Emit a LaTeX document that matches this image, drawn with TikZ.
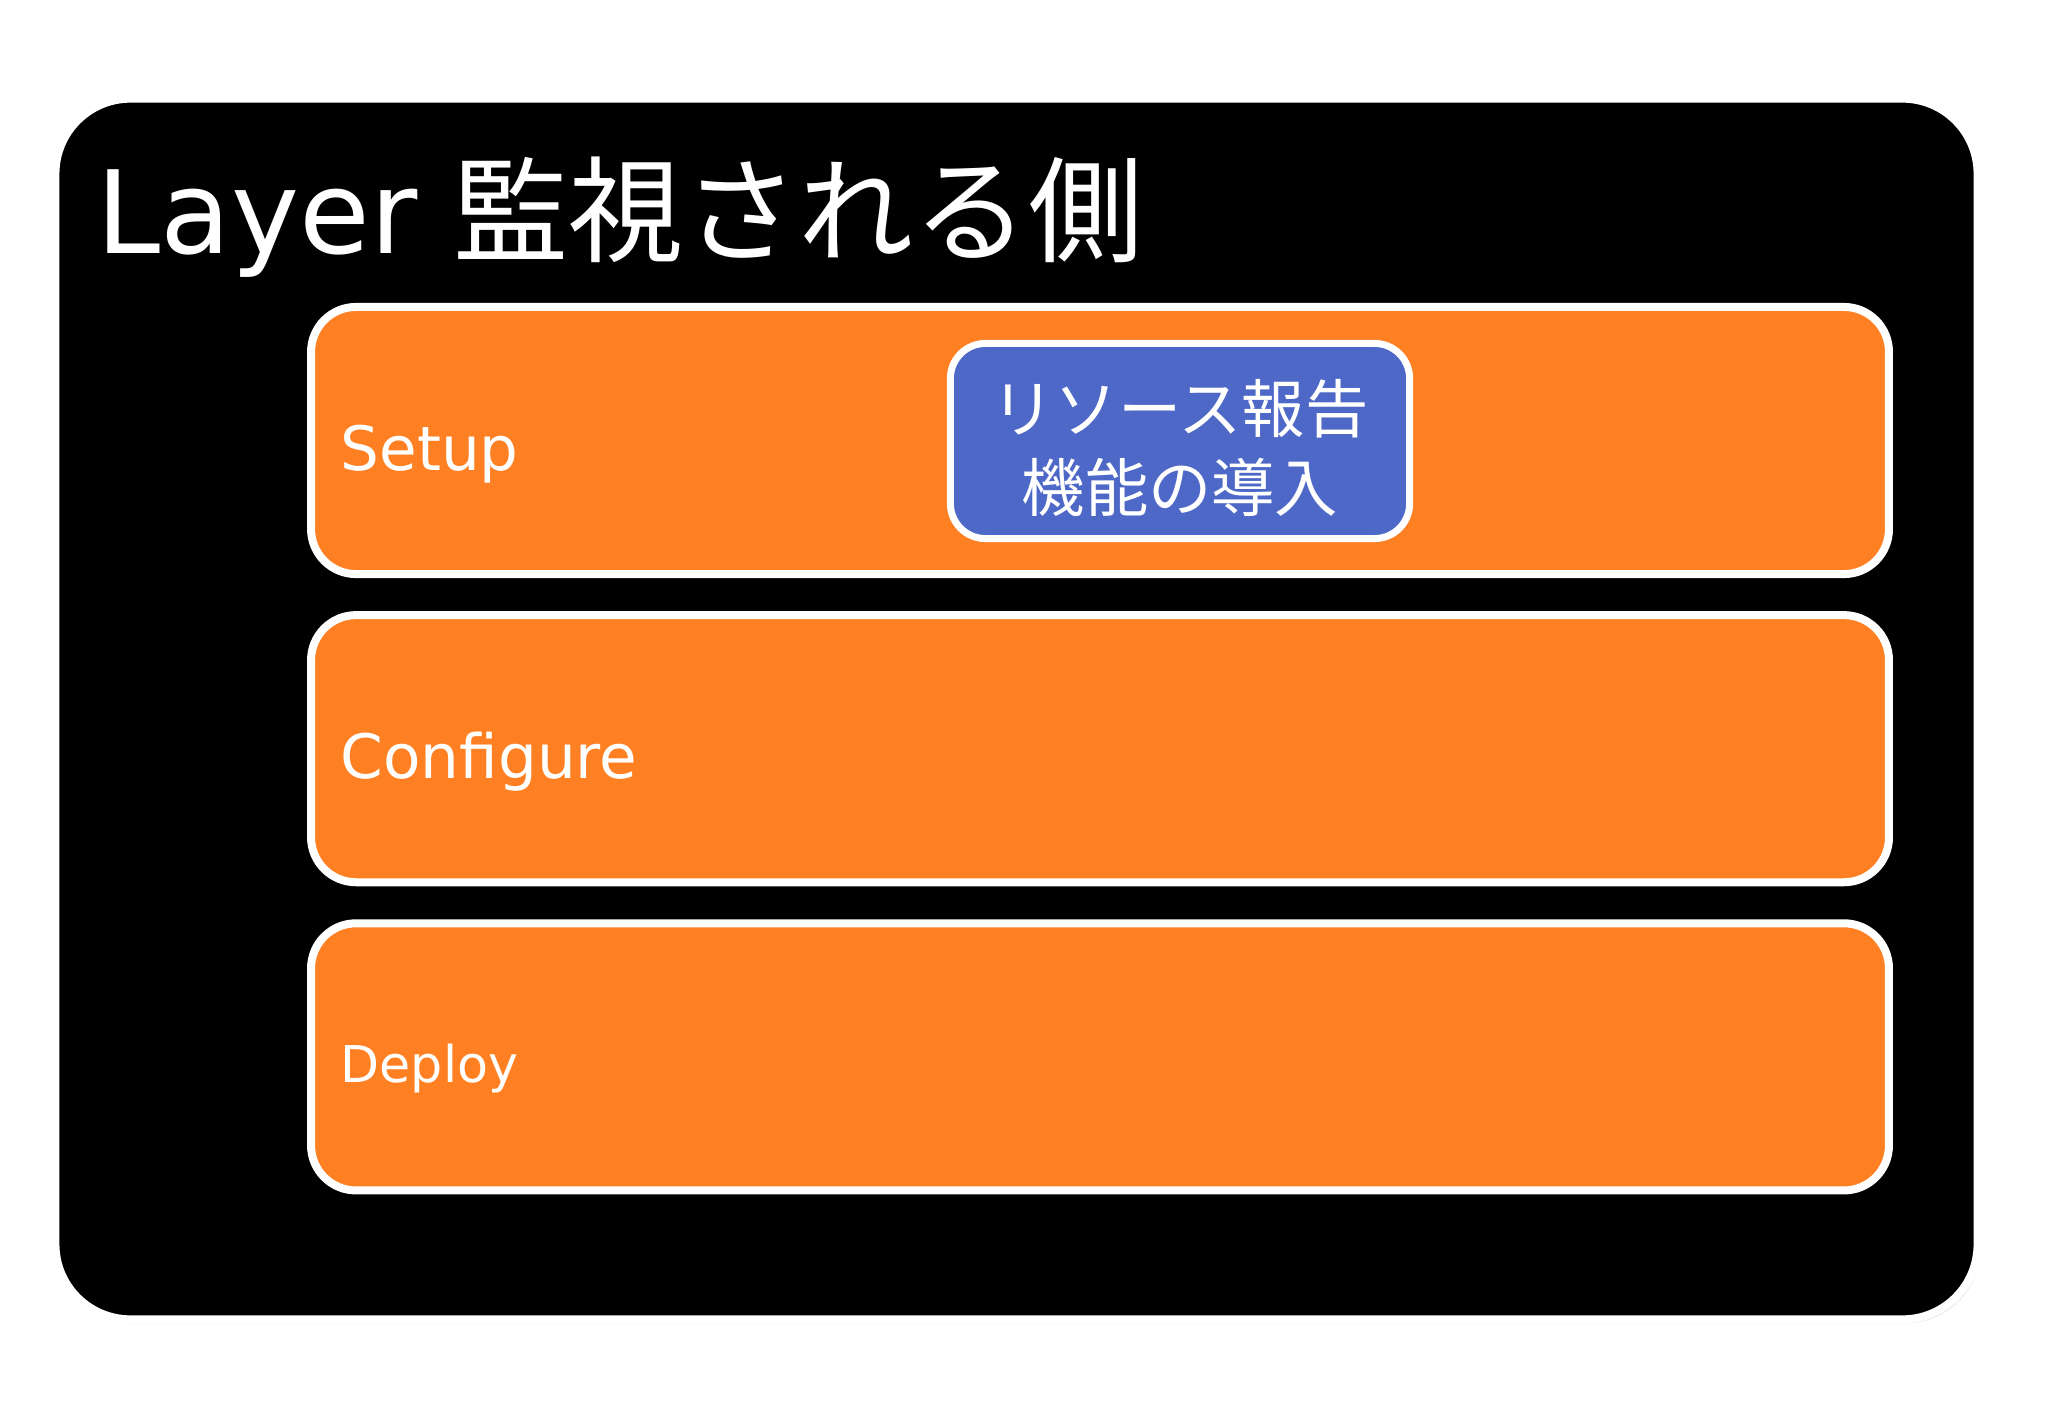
\documentclass[tikz,border=0pt]{standalone}
\usepackage{fontspec}
\setmainfont{DejaVu Sans}
\newfontfamily\jpfont{Noto Sans CJK JP}
\usetikzlibrary{positioning,shadows}
\definecolor{stageorange}{RGB}{255,128,34}
\definecolor{reportblue}{RGB}{78,104,199}

\begin{document}
\begin{tikzpicture}[x=0.01cm,y=-0.01cm,
  layerbox/.style={draw=white,line width=0.08cm,fill=black,rounded corners=0.75cm,
    minimum width=19.21cm,minimum height=12.2cm,
    drop shadow={shadow xshift=0.03cm,shadow yshift=-0.04cm,opacity=0.2}},
  stagebox/.style={draw=white,line width=0.08cm,fill=stageorange,rounded corners=0.45cm,
    minimum width=15.77cm,minimum height=2.67cm},
  stagelabel/.style={text=white,anchor=base west,inner sep=0pt,
    font=\fontsize{17.4}{20}\selectfont},
  reportbox/.style={draw=white,line width=0.07cm,fill=reportblue,rounded corners=0.35cm,
    minimum width=4.59cm,minimum height=1.95cm,
    drop shadow={shadow xshift=0.02cm,shadow yshift=-0.03cm,opacity=0.2}},
  reporttext/.style={text=white,align=center,inner sep=0pt,
    font=\jpfont\fontsize{18}{22.2}\selectfont}]
\useasboundingbox (0,0) rectangle (2048,1418);
\node[layerbox] (layer) at (1016.5,709) {};
\node[text=white,anchor=base west,inner sep=0pt,font=\fontsize{32.7}{38}\selectfont]
  (title) at (96,253) {Layer {\jpfont 監視される側}};
%
\node[stagebox] (setup) at (1100,440.5) {};
\node[stagebox,below=0.33cm of setup] (configure) {};
\node[stagebox,below=0.33cm of configure] (deploy) {};
%
\node[stagelabel] (setuplbl) at (340,470) {Setup};
\node[stagelabel] (configurelbl) at (340,778) {Configure};
\node[stagelabel,font=\fontsize{14.4}{18}\selectfont] (deploylbl) at (340,1082) {Deploy};
%
\node[reportbox] (report) at (1180,441) {};
\node[reporttext] (reportlbl) at ([yshift=-0.07cm]report.center) {リソース報告\\機能の導入};
\end{tikzpicture}
\end{document}
